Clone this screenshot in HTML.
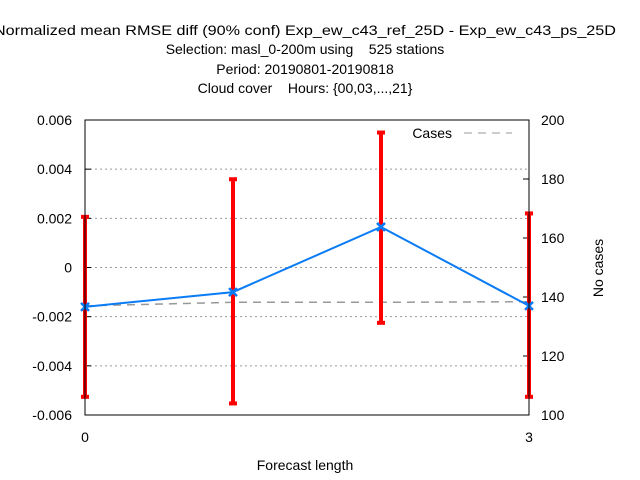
<!DOCTYPE html>
<html><head><meta charset="utf-8"><style>
html,body{margin:0;padding:0;background:#fff;}
svg{display:block;font-family:"Liberation Sans",sans-serif;}
text{white-space:pre;}
</style></head><body>
<svg id="chart" width="640" height="480" viewBox="0 0 640 480" xmlns="http://www.w3.org/2000/svg">
<g font-size="14" text-anchor="middle" fill="#000">
<text x="305" y="35" textLength="622" lengthAdjust="spacingAndGlyphs">Normalized mean RMSE diff (90% conf) Exp_ew_c43_ref_25D - Exp_ew_c43_ps_25D</text>
<text x="305" y="54">Selection: masl_0-200m using    525 stations</text>
<text x="305" y="74">Period: 20190801-20190818</text>
<text x="305" y="93">Cloud cover    Hours: {00,03,...,21}</text>
</g>
<g id="grid"></g>
<g id="axes"></g>
<g id="series"></g>
<rect x="85" y="120" width="444" height="295" fill="none" stroke="#000" stroke-width="1"/>
<text x="305" y="470" font-size="14" text-anchor="middle">Forecast length</text>
<text x="0" y="0" font-size="14" text-anchor="middle" transform="translate(603,268) rotate(-90)">No cases</text>
<g>
<text x="452" y="138" font-size="14" text-anchor="end">Cases</text>
<line x1="464" y1="133" x2="512" y2="133" stroke="#999" stroke-width="1" stroke-dasharray="8,6"/>
</g>
</svg>
<script>
const xCats=[0,1,2,3];
const xTickLabels=["0","3"];
const xTickVals=[0,3];
const meanDiff=[-0.0016,-0.00100,0.00165,-0.00156];
const errHigh=[0.00206,0.00359,0.00549,0.00220];
const errLow=[-0.00526,-0.00553,-0.00225,-0.00526];
const cases=[137,138.2,138.2,138.4];
const leftTicks=[-0.006,-0.004,-0.002,0,0.002,0.004,0.006];
const leftTickLabels=["-0.006","-0.004","-0.002","0","0.002","0.004","0.006"];
const rightTicks=[100,120,140,160,180,200];

const NS="http://www.w3.org/2000/svg";
const L=85,R=529,T=120,B=415;
const xs=v=>L+(v-0)/(3-0)*(R-L);
const yl=v=>B-(v+0.006)/0.012*(B-T);
const yr=v=>B-(v-100)/100*(B-T);
function mk(tag,attrs,parent){const e=document.createElementNS(NS,tag);for(const k in attrs)e.setAttribute(k,attrs[k]);parent.appendChild(e);return e;}
const grid=document.getElementById('grid'),axes=document.getElementById('axes'),series=document.getElementById('series');
leftTicks.forEach((v,i)=>{
  const y=yl(v);
  if(i>0&&i<leftTicks.length-1){
    const g=mk('line',{x1:L,x2:R,y1:y,y2:y,stroke:'#999','stroke-width':1,'stroke-dasharray':'2,3'},grid);
    
    
  }
  const t=mk('line',{x1:L,x2:L+6,y1:y,y2:y,stroke:'#000'},axes);
  
  
  const tx=mk('text',{x:72,y:y+5,'font-size':14,'text-anchor':'end'},axes);
  tx.textContent=leftTickLabels[i];
  
  
});
rightTicks.forEach(v=>{
  const y=yr(v);
  const t=mk('line',{x1:R-6,x2:R,y1:y,y2:y,stroke:'#000'},axes);
  
  
  const tx=mk('text',{x:541,y:y+5,'font-size':14},axes);
  tx.textContent=String(v);
  
  
});
xTickVals.forEach((v,i)=>{
  const tx=mk('text',{x:xs(v),y:442,'font-size':14,'text-anchor':'middle'},axes);
  tx.textContent=xTickLabels[i];
  
  
});
const cp=mk('polyline',{points:xCats.map((c,i)=>xs(c)+','+yr(cases[i])).join(' '),fill:'none',stroke:'#999','stroke-width':1.5,'stroke-dasharray':'8,6'},series);


xCats.forEach((c,i)=>{
  const x=xs(c),y1=yl(errHigh[i]),y2=yl(errLow[i]);
  const e=mk('line',{x1:x,x2:x,y1:y1,y2:y2,stroke:'#f00','stroke-width':4},series);
  
  
  [y1,y2].forEach(y=>{
    const cap=mk('line',{x1:x-4,x2:x+4,y1:y,y2:y,stroke:'#f00','stroke-width':4},series);
    
    
  });
});
const ml=mk('polyline',{points:xCats.map((c,i)=>xs(c)+','+yl(meanDiff[i])).join(' '),fill:'none',stroke:'#0a7cf5','stroke-width':2},series);


xCats.forEach((c,i)=>{
  const x=xs(c),y=yl(meanDiff[i]);
  const m=mk('path',{d:`M${x-4},${y-4}L${x+4},${y+4}M${x-4},${y+4}L${x+4},${y-4}`,stroke:'#0a7cf5','stroke-width':2.5},series);
  
  
});
</script>
</body></html>
